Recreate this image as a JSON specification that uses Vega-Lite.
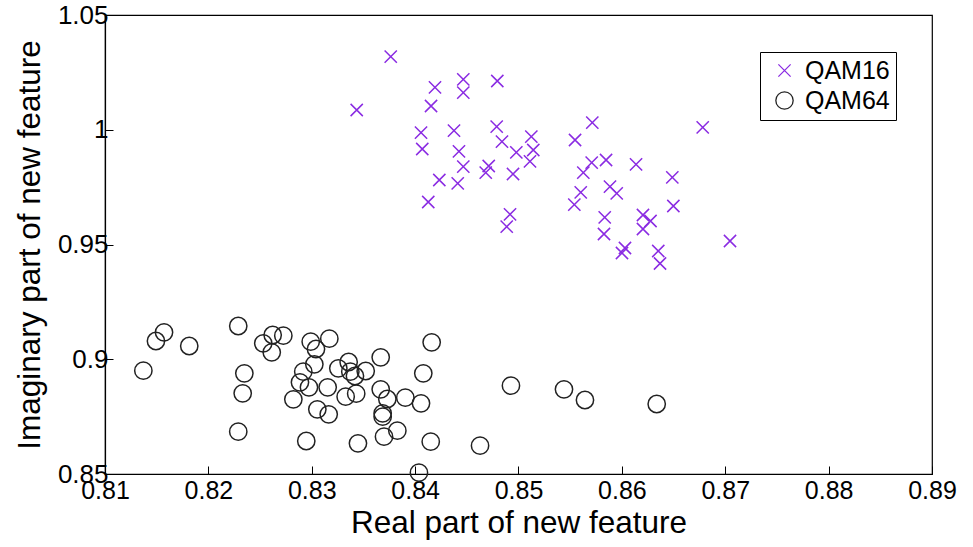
{
  "$schema": "https://vega.github.io/schema/vega-lite/v6.json",
  "width": 827,
  "height": 459,
  "autosize": {"type": "none"},
  "padding": {"left": 105, "top": 15, "right": 41, "bottom": 73},
  "background": "white",
  "config": {
    "font": "Liberation Sans",
    "view": {"stroke": "black", "strokeWidth": 1.2},
    "axis": {
      "grid": false,
      "domainColor": "black",
      "domainWidth": 1.2,
      "tickColor": "black",
      "tickWidth": 1,
      "tickSize": -8,
      "labelColor": "black",
      "labelFont": "Liberation Sans",
      "labelFontSize": 26,
      "titleFont": "Liberation Sans",
      "titleFontSize": 31.5,
      "titleFontWeight": "normal",
      "titleColor": "black",
      "labelFlush": false,
      "labelOverlap": false
    }
  },
  "data": {
    "values": [
      {"series": "QAM16", "re": 0.83764, "im": 1.03183},
      {"series": "QAM16", "re": 0.83435, "im": 1.00861},
      {"series": "QAM16", "re": 0.84192, "im": 1.0185},
      {"series": "QAM16", "re": 0.84466, "im": 1.02198},
      {"series": "QAM16", "re": 0.84466, "im": 1.01614},
      {"series": "QAM16", "re": 0.84795, "im": 1.02124},
      {"series": "QAM16", "re": 0.84154, "im": 1.01035},
      {"series": "QAM16", "re": 0.84057, "im": 0.99871},
      {"series": "QAM16", "re": 0.84376, "im": 0.99959},
      {"series": "QAM16", "re": 0.84789, "im": 1.00133},
      {"series": "QAM16", "re": 0.84069, "im": 0.99161},
      {"series": "QAM16", "re": 0.84424, "im": 0.99061},
      {"series": "QAM16", "re": 0.8484, "im": 0.99479},
      {"series": "QAM16", "re": 0.85124, "im": 0.99697},
      {"series": "QAM16", "re": 0.84979, "im": 0.99017},
      {"series": "QAM16", "re": 0.85143, "im": 0.99118},
      {"series": "QAM16", "re": 0.85111, "im": 0.98625},
      {"series": "QAM16", "re": 0.84466, "im": 0.9839},
      {"series": "QAM16", "re": 0.84712, "im": 0.9842},
      {"series": "QAM16", "re": 0.84683, "im": 0.98129},
      {"series": "QAM16", "re": 0.84947, "im": 0.98072},
      {"series": "QAM16", "re": 0.84234, "im": 0.9781},
      {"series": "QAM16", "re": 0.84412, "im": 0.97667},
      {"series": "QAM16", "re": 0.84127, "im": 0.96852},
      {"series": "QAM16", "re": 0.84918, "im": 0.96316},
      {"series": "QAM16", "re": 0.84886, "im": 0.95776},
      {"series": "QAM16", "re": 0.85547, "im": 0.99553},
      {"series": "QAM16", "re": 0.85714, "im": 1.00307},
      {"series": "QAM16", "re": 0.85708, "im": 0.98564},
      {"series": "QAM16", "re": 0.85847, "im": 0.98682},
      {"series": "QAM16", "re": 0.85627, "im": 0.98129},
      {"series": "QAM16", "re": 0.85602, "im": 0.97275},
      {"series": "QAM16", "re": 0.8554, "im": 0.96734},
      {"series": "QAM16", "re": 0.85885, "im": 0.97519},
      {"series": "QAM16", "re": 0.8595, "im": 0.97231},
      {"series": "QAM16", "re": 0.85834, "im": 0.96185},
      {"series": "QAM16", "re": 0.85827, "im": 0.95458},
      {"series": "QAM16", "re": 0.8603, "im": 0.94847},
      {"series": "QAM16", "re": 0.86001, "im": 0.9463},
      {"series": "QAM16", "re": 0.86137, "im": 0.98495},
      {"series": "QAM16", "re": 0.86488, "im": 0.97928},
      {"series": "QAM16", "re": 0.86498, "im": 0.96678},
      {"series": "QAM16", "re": 0.86204, "im": 0.96285},
      {"series": "QAM16", "re": 0.86277, "im": 0.96024},
      {"series": "QAM16", "re": 0.86204, "im": 0.95675},
      {"series": "QAM16", "re": 0.86352, "im": 0.94717},
      {"series": "QAM16", "re": 0.86369, "im": 0.94172},
      {"series": "QAM16", "re": 0.86782, "im": 1.00107},
      {"series": "QAM16", "re": 0.87046, "im": 0.95153},
      {"series": "QAM64", "re": 0.81371, "im": 0.89501},
      {"series": "QAM64", "re": 0.81493, "im": 0.90795},
      {"series": "QAM64", "re": 0.81571, "im": 0.91174},
      {"series": "QAM64", "re": 0.81815, "im": 0.90577},
      {"series": "QAM64", "re": 0.82289, "im": 0.91449},
      {"series": "QAM64", "re": 0.82348, "im": 0.89388},
      {"series": "QAM64", "re": 0.82332, "im": 0.88516},
      {"series": "QAM64", "re": 0.82289, "im": 0.86843},
      {"series": "QAM64", "re": 0.82531, "im": 0.90695},
      {"series": "QAM64", "re": 0.82622, "im": 0.91057},
      {"series": "QAM64", "re": 0.82725, "im": 0.91026},
      {"series": "QAM64", "re": 0.82613, "im": 0.90303},
      {"series": "QAM64", "re": 0.8299, "im": 0.90765},
      {"series": "QAM64", "re": 0.83041, "im": 0.90447},
      {"series": "QAM64", "re": 0.8317, "im": 0.90895},
      {"series": "QAM64", "re": 0.83025, "im": 0.8978},
      {"series": "QAM64", "re": 0.82918, "im": 0.89458},
      {"series": "QAM64", "re": 0.82886, "im": 0.88996},
      {"series": "QAM64", "re": 0.82973, "im": 0.88778},
      {"series": "QAM64", "re": 0.82822, "im": 0.88255},
      {"series": "QAM64", "re": 0.83154, "im": 0.88778},
      {"series": "QAM64", "re": 0.83054, "im": 0.87819},
      {"series": "QAM64", "re": 0.83164, "im": 0.87601},
      {"series": "QAM64", "re": 0.82947, "im": 0.86438},
      {"series": "QAM64", "re": 0.83257, "im": 0.89606},
      {"series": "QAM64", "re": 0.83357, "im": 0.8988},
      {"series": "QAM64", "re": 0.83373, "im": 0.89458},
      {"series": "QAM64", "re": 0.83418, "im": 0.8927},
      {"series": "QAM64", "re": 0.83328, "im": 0.88368},
      {"series": "QAM64", "re": 0.8343, "im": 0.88499},
      {"series": "QAM64", "re": 0.83447, "im": 0.86338},
      {"series": "QAM64", "re": 0.83522, "im": 0.89488},
      {"series": "QAM64", "re": 0.83667, "im": 0.90085},
      {"series": "QAM64", "re": 0.83667, "im": 0.88691},
      {"series": "QAM64", "re": 0.83731, "im": 0.88268},
      {"series": "QAM64", "re": 0.83686, "im": 0.87645},
      {"series": "QAM64", "re": 0.83686, "im": 0.87497},
      {"series": "QAM64", "re": 0.83699, "im": 0.86625},
      {"series": "QAM64", "re": 0.83828, "im": 0.86887},
      {"series": "QAM64", "re": 0.83905, "im": 0.88325},
      {"series": "QAM64", "re": 0.84057, "im": 0.88081},
      {"series": "QAM64", "re": 0.84079, "im": 0.89388},
      {"series": "QAM64", "re": 0.8416, "im": 0.90739},
      {"series": "QAM64", "re": 0.84151, "im": 0.86407},
      {"series": "QAM64", "re": 0.84037, "im": 0.85057},
      {"series": "QAM64", "re": 0.84628, "im": 0.86233},
      {"series": "QAM64", "re": 0.84927, "im": 0.88847},
      {"series": "QAM64", "re": 0.8544, "im": 0.88691},
      {"series": "QAM64", "re": 0.85643, "im": 0.88224},
      {"series": "QAM64", "re": 0.86337, "im": 0.8805}
    ]
  },
  "mark": {"type": "point", "filled": false, "strokeWidth": 1.5, "opacity": 1, "clip": false},
  "encoding": {
    "x": {
      "field": "re",
      "type": "quantitative",
      "scale": {"domain": [0.81, 0.89], "nice": false, "zero": false},
      "axis": {
        "title": "Real part of new feature",
        "values": [0.81, 0.82, 0.83, 0.84, 0.85, 0.86, 0.87, 0.88, 0.89],
        "format": "~g",
        "labelFontSize": 25,
        "labelPadding": 12,
        "titlePadding": 4
      }
    },
    "y": {
      "field": "im",
      "type": "quantitative",
      "scale": {"domain": [0.85, 1.05], "nice": false, "zero": false},
      "axis": {
        "title": "Imaginary part of new feature",
        "values": [0.85, 0.9, 0.95, 1, 1.05],
        "format": "~g",
        "labelPadding": 5,
        "titlePadding": 11
      }
    },
    "color": {
      "field": "series",
      "type": "nominal",
      "scale": {"domain": ["QAM16", "QAM64"], "range": ["#8a2be2", "#222222"]},
      "legend": {
        "title": null,
        "orient": "none",
        "legendX": 655,
        "legendY": 37,
        "strokeColor": "black",
        "fillColor": "white",
        "padding": 6,
        "labelFontSize": 25,
        "labelFont": "Liberation Sans",
        "labelColor": "black",
        "symbolSize": 200,
        "symbolStrokeWidth": 1.3,
        "symbolOffset": 6,
        "rowPadding": 4,
        "labelOffset": 8
      }
    },
    "shape": {
      "field": "series",
      "type": "nominal",
      "scale": {"domain": ["QAM16", "QAM64"], "range": ["M-1,-1L1,1M1,-1L-1,1", "circle"]}
    },
    "size": {
      "field": "series",
      "type": "nominal",
      "scale": {"domain": ["QAM16", "QAM64"], "range": [150, 300]},
      "legend": null
    }
  }
}
